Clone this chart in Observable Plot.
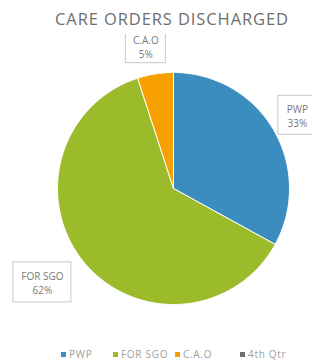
<!DOCTYPE html>
<html>
<head>
<meta charset="utf-8">
<script src="https://cdn.jsdelivr.net/npm/d3@7"></script>
<script src="https://cdn.jsdelivr.net/npm/@observablehq/plot@0.6"></script>
<style>
  html, body { margin: 0; padding: 0; background: #fff; }
  body { width: 312px; height: 364px; overflow: hidden; font-family: "Open Sans", "Liberation Sans", sans-serif; position: relative; }
  #title { height: 34px; box-sizing: border-box; padding-top: 9px; padding-left: 32px; text-align: center; font-size: 16.5px; letter-spacing: 0.9px; line-height: 20px; color: #6e6e6e; white-space: nowrap; }
  #chart svg { display: block; }
  #legend { position: absolute; left: 0; top: 347px; width: 312px; height: 14px; font-size: 10px; letter-spacing: 0.7px; color: #a0a0a0; }
  #legend .item { position: absolute; top: 0; display: flex; align-items: center; height: 14px; white-space: nowrap; }
  #legend .sw { width: 5px; height: 5px; margin-right: 3px; }
</style>
</head>
<body>
<div id="title">CARE ORDERS DISCHARGED</div>
<div id="chart"></div>
<div id="legend"></div>
<script>
const categories = ["PWP", "FOR SGO", "C.A.O", "4th Qtr"];
const values = [33, 62, 5, 0];
const labels = ["PWP\n33%", "FOR SGO\n62%", "C.A.O\n5%", ""];
const colors = ["#3b8dbf", "#9cbb2b", "#f8a000", "#6e6e6e"];

// layout
const W = 312, H = 300, cx = 173, cy = 154, R = 116;
const xDomain = [-cx / R, (W - cx) / R];
const yDomain = [-(H - cy) / R, cy / R];
const legendLeft = [61, 113, 175, 240];

const pie = d3.pie().sort(null).startAngle(0).endAngle(2 * Math.PI)(values);

// slice outline points (unit circle, y up)
const pts = [];
pie.forEach((p, i) => {
  if (p.value <= 0) return;
  const name = categories[i];
  pts.push({name, x: 0, y: 0});
  const n = Math.max(2, Math.ceil((p.endAngle - p.startAngle) / (Math.PI / 180)));
  for (let k = 0; k <= n; k++) {
    const a = p.startAngle + (p.endAngle - p.startAngle) * k / n;
    pts.push({name, x: Math.sin(a), y: Math.cos(a)});
  }
  pts.push({name, x: 0, y: 0});
});

// label placement (distance factor, angle shift in degrees, box w, h in px)
const place = {
  "PWP": [1.24, 0, 38, 39],
  "FOR SGO": [1.39, 4, 58, 40],
  "C.A.O": [1.25, -2, 40, 34]
};
const lab = [];
pie.forEach((p, i) => {
  const name = categories[i];
  if (p.value <= 0 || !place[name]) return;
  const [f, sh, w, h] = place[name];
  const a = (p.startAngle + p.endAngle) / 2 + sh * Math.PI / 180;
  const x = f * Math.sin(a), y = f * Math.cos(a);
  lab.push({name, text: labels[i], x, y,
    x1: x - w / 2 / R, x2: x + w / 2 / R, y1: y - h / 2 / R, y2: y + h / 2 / R});
});

const chart = Plot.plot({
  width: W, height: H,
  margin: 0,
  x: {domain: xDomain, axis: null},
  y: {domain: yDomain, axis: null},
  color: {domain: categories, range: colors},
  style: {fontFamily: "'Open Sans', 'Liberation Sans', sans-serif", background: "#fff"},
  marks: [
    Plot.line(pts, {x: "x", y: "y", z: "name", fill: "name", stroke: "#fff", strokeWidth: 1, curve: "linear"}),
    Plot.rect(lab, {x1: "x1", x2: "x2", y1: "y1", y2: "y2", fill: "#fff", stroke: "#c8c8c8", strokeWidth: 1}),
    Plot.text(lab, {x: "x", y: "y", text: "text", fill: "#7a7a7a", fontSize: 10, lineHeight: 1.45})
  ]
});
document.getElementById("chart").appendChild(chart);

const legend = document.getElementById("legend");
categories.forEach((c, i) => {
  const it = document.createElement("div");
  it.className = "item";
  it.style.left = legendLeft[i] + "px";
  const sw = document.createElement("div");
  sw.className = "sw";
  sw.style.background = colors[i];
  const t = document.createElement("span");
  t.textContent = c;
  it.appendChild(sw); it.appendChild(t);
  legend.appendChild(it);
});
</script>
</body>
</html>
